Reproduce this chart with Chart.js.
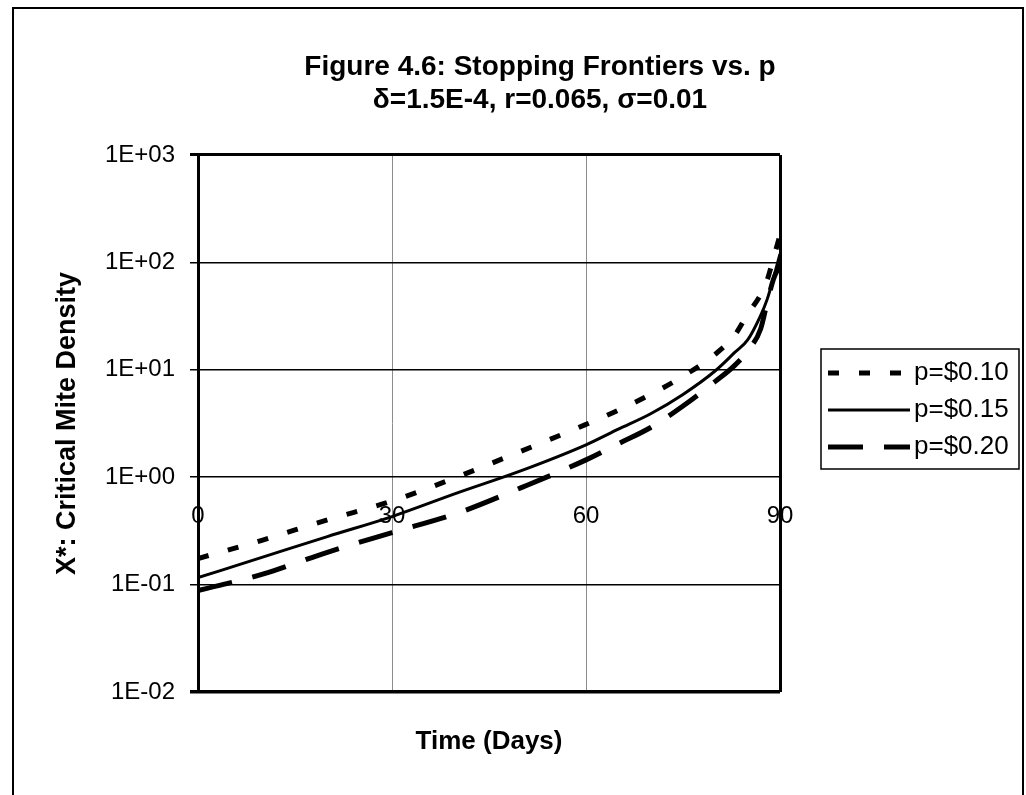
<!DOCTYPE html>
<html>
<head>
<meta charset="utf-8">
<title>Figure 4.6: Stopping Frontiers vs. p</title>
<script src="https://cdn.jsdelivr.net/npm/chart.js@4.4.1/dist/chart.umd.min.js"></script>
<style>
    html, body { margin: 0; padding: 0; background: #fff; }
    canvas { display: block; }
</style>
</head>
<body>
<canvas id="chartCanvas" width="1026" height="795"></canvas>
<script>
// values (days vs critical mite density)
const days = [0, 10, 20, 30, 40, 50, 60, 65, 70, 75, 80, 83, 85, 87, 88, 89, 90];
const p010 = [0.175, 0.26, 0.40, 0.60, 1.0, 1.75, 3.1, 4.2, 5.9, 8.7, 14, 21, 33, 50, 68, 110, 180];
const p015 = [0.116, 0.18, 0.28, 0.43, 0.71, 1.15, 2.0, 2.8, 3.9, 5.9, 9.8, 14.5, 19, 32, 45, 72, 120];
const p020 = [0.088, 0.125, 0.20, 0.305, 0.46, 0.80, 1.45, 2.05, 2.9, 4.6, 7.8, 11, 15, 24, 42, 70, 95];

const seriesLabels = ['p=$0.10', 'p=$0.15', 'p=$0.20'];
const xTicks = [0, 30, 60, 90];
const yTicks = [0.01, 0.1, 1, 10, 100, 1000];

const FONT = '"Liberation Sans", Arial, sans-serif';

function toPoints(values) {
    return days.map((d, i) => ({ x: d, y: values[i] }));
}

function expLabel(value) {
    const e = Math.round(Math.log10(value));
    return '1E' + (e < 0 ? '-' : '+') + String(Math.abs(e)).padStart(2, '0');
}

const framePlugin = {
    id: 'frame',
    beforeDraw(chart) {
        const ctx = chart.ctx;
        ctx.save();
        ctx.fillStyle = '#fff';
        ctx.fillRect(0, 0, chart.width, chart.height);
        ctx.strokeStyle = '#000';
        ctx.lineWidth = 2;
        ctx.strokeRect(13, 8, 1010, 800);
        ctx.restore();
    }
};

// boxed legend to the right of the plot, like the Excel original
const boxLegend = {
    id: 'boxLegend',
    afterDraw(chart) {
        const ctx = chart.ctx;
        ctx.save();
        ctx.strokeStyle = '#000';
        ctx.lineWidth = 1.5;
        ctx.strokeRect(821, 349, 198, 120);
        chart.data.datasets.forEach((ds, i) => {
            const y = 373 + i * 37;
            ctx.setLineDash(ds.borderDash || []);
            ctx.lineWidth = ds.borderWidth;
            ctx.beginPath();
            ctx.moveTo(828, y);
            ctx.lineTo(910, y);
            ctx.stroke();
            ctx.setLineDash([]);
            ctx.fillStyle = '#000';
            ctx.font = '26px ' + FONT;
            ctx.textBaseline = 'middle';
            ctx.fillText(ds.label, 914, y);
        });
        ctx.restore();
    }
};

Chart.defaults.font.family = FONT;
Chart.defaults.color = '#000';

const ctx = document.getElementById('chartCanvas').getContext('2d');
const chart = new Chart(ctx, {
    type: 'line',
    data: {
        datasets: [{
            label: seriesLabels[0],
            data: toPoints(p010),
            borderColor: '#000',
            borderWidth: 5,
            borderDash: [11, 20]
        }, {
            label: seriesLabels[1],
            data: toPoints(p015),
            borderColor: '#000',
            borderWidth: 3
        }, {
            label: seriesLabels[2],
            data: toPoints(p020),
            borderColor: '#000',
            borderWidth: 5,
            borderDash: [35, 21]
        }]
    },
    options: {
        responsive: false,
        animation: false,
        devicePixelRatio: 1,
        events: [],
        layout: { padding: { left: 54, right: 0, top: 0, bottom: 0 } },
        elements: {
            point: { radius: 0 },
            line: { cubicInterpolationMode: 'monotone', fill: false }
        },
        plugins: {
            legend: { display: false },
            tooltip: { enabled: false },
            title: {
                display: true,
                text: ['Figure 4.6: Stopping Frontiers vs. p', 'δ=1.5E-4, r=0.065, σ=0.01'],
                font: { size: 28, weight: 'bold', lineHeight: 1.18 },
                padding: { top: 50.5, bottom: 38.4 }
            },
            subtitle: {
                display: true,
                position: 'bottom',
                fullSize: false,
                text: 'Time (Days)',
                font: { size: 26, weight: 'bold', lineHeight: 1.2 },
                padding: { top: 34.4, bottom: 37.4 }
            }
        },
        scales: {
            x: {
                type: 'linear',
                position: { y: 1 },
                min: 0,
                max: 90,
                afterBuildTicks: (scale) => { scale.ticks = xTicks.map(v => ({ value: v })); },
                ticks: { font: { size: 24 }, padding: 25, autoSkip: false, maxRotation: 0 },
                grid: {
                    drawTicks: false,
                    color: (c) => (c.tick && (c.tick.value === 0 || c.tick.value === 90)) ? '#000' : '#8c8c8c',
                    lineWidth: (c) => (c.tick && (c.tick.value === 0 || c.tick.value === 90)) ? 3 : 1
                },
                border: { display: false }
            },
            y: {
                type: 'logarithmic',
                position: 'left',
                min: 0.01,
                max: 1000,
                afterBuildTicks: (scale) => { scale.ticks = yTicks.map(v => ({ value: v })); },
                afterFit: (scale) => { scale.width = 144; },
                ticks: {
                    font: { size: 24 },
                    padding: 15,
                    autoSkip: false,
                    callback: (v) => expLabel(v)
                },
                grid: {
                    color: '#000',
                    tickLength: 8,
                    lineWidth: (c) => {
                        if (!c.tick) return 1.5;
                        if (c.tick.value === 0.01) return 3.5;
                        if (c.tick.value === 1000) return 3;
                        return 1.5;
                    }
                },
                border: { display: true, color: '#000', width: 3 },
                title: {
                    display: true,
                    text: 'X*: Critical Mite Density',
                    font: { size: 27, weight: 'bold', lineHeight: 1.0 },
                    padding: { top: 0, bottom: 0 }
                }
            },
            // empty right-hand axis, only reserves the room where the legend sits
            y2: {
                type: 'linear',
                position: 'right',
                display: true,
                afterFit: (scale) => { scale.width = 246; },
                ticks: { display: false },
                grid: { display: false },
                border: { display: false }
            }
        }
    },
    plugins: [framePlugin, boxLegend]
});
</script>
</body>
</html>
